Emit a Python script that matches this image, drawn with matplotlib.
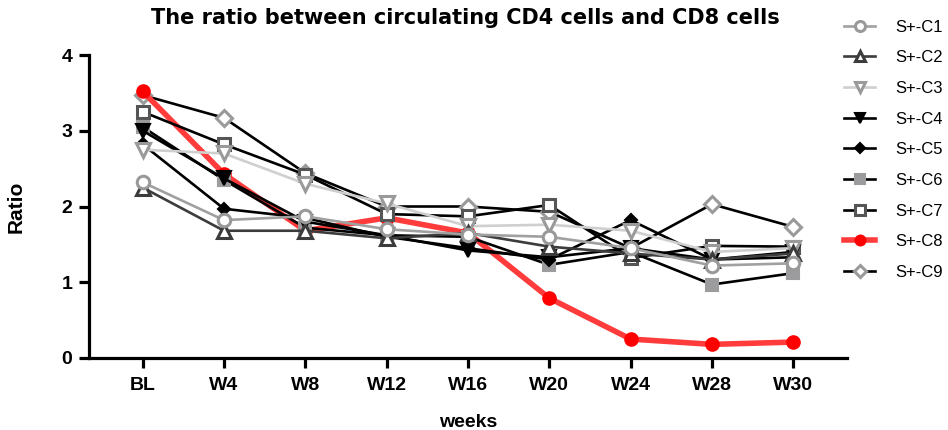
import matplotlib
matplotlib.use("Agg")
import matplotlib.pyplot as plt

plt.rcParams['font.family'] = ['Liberation Sans', 'DejaVu Sans']

weeks = ["BL", "W4", "W8", "W12", "W16", "W20", "W24", "W28", "W30"]
series_names = ["S+-C1", "S+-C2", "S+-C3", "S+-C4", "S+-C5", "S+-C6", "S+-C7", "S+-C8", "S+-C9"]

c1 = [2.32, 1.82, 1.87, 1.70, 1.63, 1.60, 1.45, 1.22, 1.25]
c2 = [2.25, 1.68, 1.68, 1.58, 1.65, 1.47, 1.38, 1.30, 1.38]
c3 = [2.75, 2.70, 2.30, 2.04, 1.74, 1.76, 1.68, 1.40, 1.45]
c4 = [3.00, 2.37, 1.80, 1.62, 1.42, 1.33, 1.45, 1.30, 1.40]
c5 = [2.82, 1.97, 1.85, 1.60, 1.45, 1.30, 1.82, 1.30, 1.33]
c6 = [3.05, 2.35, 1.72, 1.62, 1.60, 1.23, 1.40, 0.97, 1.12]
c7 = [3.25, 2.82, 2.42, 1.90, 1.87, 2.02, 1.32, 1.48, 1.47]
c8 = [3.52, 2.43, 1.68, 1.85, 1.65, 0.79, 0.25, 0.18, 0.21]
c9 = [3.47, 3.17, 2.44, 2.00, 2.00, 1.93, 1.45, 2.03, 1.73]
values = [c1, c2, c3, c4, c5, c6, c7, c8, c9]

styles = [
    dict(color="#a0a0a0", marker="o", mfc="white", mec="#999999", lw=1.9, ms=9, mew=2.2),
    dict(color="#3c3c3c", marker="^", mfc="white", mec="#3c3c3c", lw=1.9, ms=9.5, mew=2.2),
    dict(color="#cfcfcf", marker="v", mfc="white", mec="#9a9a9a", lw=1.9, ms=9.5, mew=2.2),
    dict(color="black", marker="v", mfc="black", mec="black", lw=1.9, ms=9.5, mew=1.5),
    dict(color="black", marker="D", mfc="black", mec="black", lw=1.9, ms=6.5, mew=1.5),
    dict(color="black", marker="s", mfc="#9c9c9e", mec="#9c9c9e", lw=1.9, ms=9, mew=1.5),
    dict(color="black", marker="s", mfc="white", mec="#555555", lw=1.9, ms=9, mew=2.2),
    dict(color="#ff3b3b", marker="o", mfc="#ff0000", mec="#ff0000", lw=4.0, ms=9.5, mew=1.0),
    dict(color="black", marker="D", mfc="white", mec="#9a9a9a", lw=1.9, ms=8, mew=2.2),
]

fig = plt.figure(figsize=(9.48, 4.30), dpi=100)
ax = fig.add_axes([89/948, 1-358/430, (847-89)/948, (358-55)/430])

x = list(range(len(weeks)))
handles = [None]*len(series_names)
for i in reversed(range(len(series_names))):
    st = styles[i]
    h, = ax.plot(x, values[i], color=st["color"], lw=st["lw"], marker=st["marker"],
                 markerfacecolor=st["mfc"], markeredgecolor=st["mec"],
                 markersize=st["ms"], markeredgewidth=st["mew"], label=series_names[i],
                 solid_joinstyle='miter', zorder=2+len(series_names)-i)
    handles[i] = h

ax.set_xlim(-0.66, 8.66)
ax.set_ylim(0, 4)
ax.set_xticks(x)
ax.set_xticklabels(weeks)
ax.set_yticks([0, 1, 2, 3, 4])
for s in ["top", "right"]:
    ax.spines[s].set_visible(False)
for s in ["left", "bottom"]:
    ax.spines[s].set_linewidth(2.3)
ax.tick_params(axis="both", direction="out", length=7, width=2.3, labelsize=14, pad=5)
ax.xaxis.set_tick_params(pad=7)
for lab in ax.get_xticklabels() + ax.get_yticklabels():
    lab.set_fontweight("bold")

ax.set_xlabel("weeks", fontsize=14, fontweight="bold", labelpad=14)
ax.set_ylabel("Ratio", fontsize=15, fontweight="bold", labelpad=26)
fig.text(465/948, 1-18/430, "The ratio between circulating CD4 cells and CD8 cells",
         ha="center", va="center", fontsize=15, fontweight="bold",
         family=["DejaVu Sans"])

leg = fig.legend(handles=handles, labels=series_names, loc="upper left",
                 bbox_to_anchor=(837/948, 1-13/430), frameon=False, fontsize=12,
                 handlelength=1.9, handletextpad=1.2, labelspacing=0.94, borderaxespad=0,
                 markerscale=0.8)

fig.savefig("out.png", dpi=100)
